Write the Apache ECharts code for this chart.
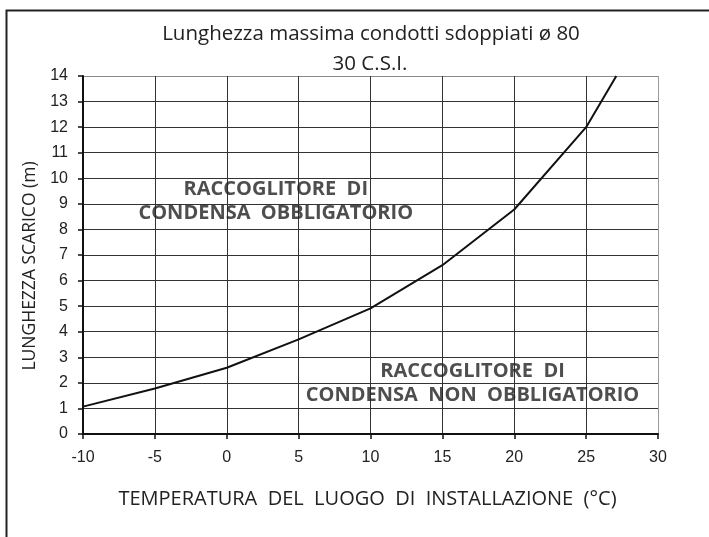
<!DOCTYPE html>
<html>
<head>
<meta charset="utf-8">
<script src="https://cdn.jsdelivr.net/npm/echarts@6/dist/echarts.min.js"></script>
<style>
html,body{margin:0;padding:0;background:#fff;}
#chart{width:709px;height:537px;}
</style>
</head>
<body>
<div id="chart"></div>
<script>
// ---- data ----
var titleLines = ['Lunghezza massima condotti sdoppiati ø 80', '30 C.S.I.'];
var xAxisName = 'TEMPERATURA  DEL  LUOGO  DI  INSTALLAZIONE  (°C)';
var yAxisName = 'LUNGHEZZA SCARICO (m)';
var temps   = [-10, -5, 0, 5, 10, 15, 20, 25, 27.1];
var lengths = [1.07, 1.78, 2.59, 3.70, 4.91, 6.60, 8.78, 12.0, 14.0];
var zoneLabels = [
  'RACCOGLITORE  DI\nCONDENSA  OBBLIGATORIO',
  'RACCOGLITORE  DI\nCONDENSA  NON  OBBLIGATORIO'
];
var zoneAnchors = [[3.41, 9.1], [17.1, 1.98]];

var lineData = temps.map(function (t, i) { return [t, lengths[i]]; });

var gridColorsY = [];
for (var i = 0; i <= 14; i++) gridColorsY.push(i === 14 ? '#8a8a8a' : '#333');
var gridColorsX = [];
for (var j = 0; j <= 8; j++) gridColorsX.push(j === 8 ? '#9a9a9a' : '#333');

var chart = echarts.init(document.getElementById('chart'), null, {renderer: 'canvas'});
var frutiger = '"Open Sans", "Noto Sans", sans-serif';
var arial = '"Liberation Sans", Arial, sans-serif';

chart.setOption({
  backgroundColor: '#fff',
  animation: false,
  title: [
    {text: titleLines[0], left: 366, top: 19, textAlign: 'center',
     textStyle: {fontFamily: frutiger, fontWeight: 'normal', fontSize: 20.5, color: '#222'}},
    {text: titleLines[1], left: 365, top: 49, textAlign: 'center',
     textStyle: {fontFamily: frutiger, fontWeight: 'normal', fontSize: 20.5, color: '#222'}}
  ],
  graphic: [{
    type: 'rect', silent: true,
    shape: {x: 6.5, y: 10.5, width: 900, height: 900},
    style: {fill: 'none', stroke: '#222', lineWidth: 2}
  }],
  grid: {left: 83, right: 51, top: 76, bottom: 103, containLabel: false, outerBoundsMode: 'none'},
  xAxis: {
    type: 'value', min: -10, max: 30, interval: 5,
    name: xAxisName, nameLocation: 'middle', nameGap: 55,
    nameTextStyle: {fontFamily: frutiger, fontSize: 20, color: '#222', padding: [0, 6, 0, 0]},
    axisLine: {show: true, onZero: false, lineStyle: {color: '#111', width: 2}},
    axisTick: {show: true, length: 5, lineStyle: {color: '#111', width: 1.5}},
    axisLabel: {fontFamily: arial, fontSize: 16, color: '#222', margin: 16},
    splitLine: {show: true, lineStyle: {color: gridColorsX, width: 1}}
  },
  yAxis: {
    type: 'value', min: 0, max: 14, interval: 1,
    name: yAxisName, nameLocation: 'middle', nameGap: 39, nameRotate: 90,
    nameTextStyle: {fontFamily: frutiger, fontSize: 17.5, color: '#222', padding: [0, 22, 0, 0]},
    axisLine: {show: true, onZero: false, lineStyle: {color: '#111', width: 2}},
    axisTick: {show: true, length: 5, lineStyle: {color: '#111', width: 1.5}},
    axisLabel: {fontFamily: arial, fontSize: 16, color: '#222', margin: 15},
    splitLine: {show: true, lineStyle: {color: gridColorsY, width: 1}}
  },
  series: [
    {
      type: 'line', data: lineData, showSymbol: false, symbol: 'none',
      lineStyle: {color: '#111', width: 2}, silent: true, z: 5
    },
    {
      type: 'scatter', symbolSize: 0, silent: true, z: 6,
      data: zoneAnchors.map(function (p, k) { return {value: p, name: zoneLabels[k]}; }),
      label: {
        show: true, position: 'inside', formatter: function (p) { return p.name; },
        fontFamily: frutiger, fontWeight: 'bold', fontSize: 20, color: '#222',
        lineHeight: 24, align: 'center', verticalAlign: 'middle'
      }
    }
  ]
});
</script>
</body>
</html>
